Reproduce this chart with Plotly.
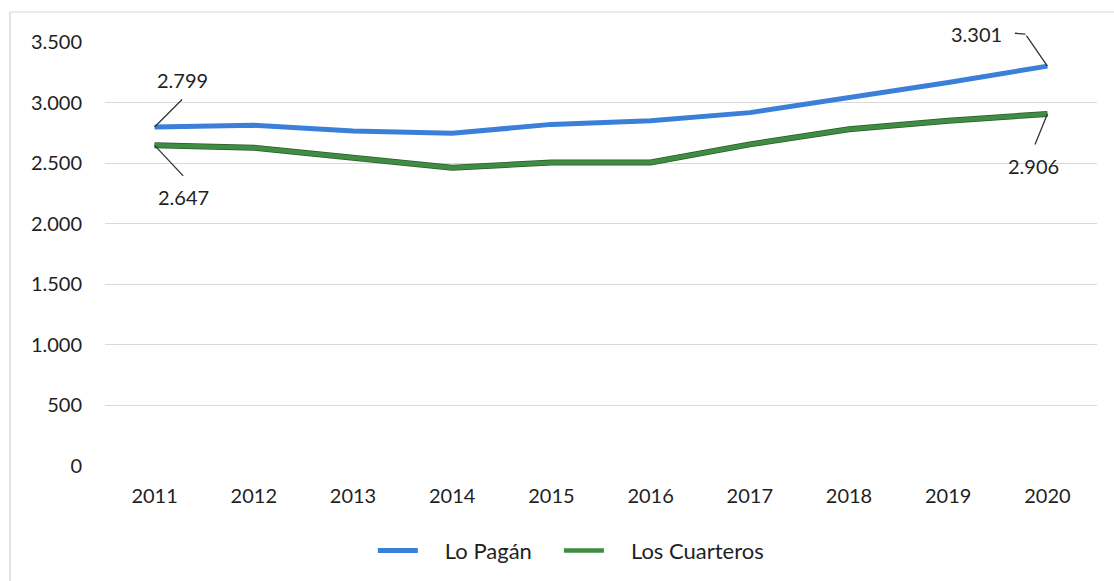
import plotly.graph_objects as go

years = [2011, 2012, 2013, 2014, 2015, 2016, 2017, 2018, 2019, 2020]
lo_pagan = [2799, 2812, 2766, 2746, 2820, 2850, 2917, 3042, 3165, 3301]
los_cuarteros = [2647, 2628, 2545, 2463, 2505, 2505, 2655, 2780, 2850, 2906]
y_ticks = [0, 500, 1000, 1500, 2000, 2500, 3000, 3500]
series_names = ["Lo Pagán", "Los Cuarteros"]

BLUE = "#3b80d8"
GREEN = "#3f8d42"
GREEN_EDGE = "#2a5a2c"
FONT = "Lato"
TXT = "#1f1f1f"
PAD = "\u2002\u2002"

def fmt(v):
    return f"{v:,}".replace(",", ".")

fig = go.Figure()
fig.add_trace(go.Scatter(x=years, y=lo_pagan, mode="lines", name=PAD + series_names[0] + PAD,
                         line=dict(color=BLUE, width=5)))
fig.add_trace(go.Scatter(x=years, y=los_cuarteros, mode="lines", name="edge",
                         line=dict(color=GREEN_EDGE, width=6), showlegend=False, hoverinfo="skip"))
fig.add_trace(go.Scatter(x=years, y=los_cuarteros, mode="lines", name=PAD + series_names[1],
                         line=dict(color=GREEN, width=4.5)))

ann_font = dict(family=FONT, size=20, color=TXT)
annotations = []
leaders = [
    (years[0], lo_pagan[0], 29, -29, 0, 0),
    (years[0], los_cuarteros[0], 30, 32, 0, 0),
    (years[-1], lo_pagan[-1], -22, -32, 0, 0),
    (years[-1], lo_pagan[-1], -12, -1, -22, 32),
    (years[-1], los_cuarteros[-1], -13, 32, 0, 0),
]
for x, y, ax, ay, xs, ys in leaders:
    annotations.append(dict(x=x, y=y, xref="x", yref="y", text="", showarrow=True,
                            arrowhead=0, arrowwidth=1.3, arrowcolor="#333333",
                            ax=ax, ay=ay, xshift=xs, yshift=ys, standoff=0, startstandoff=0))
labels = [
    (years[0], lo_pagan[0], 28, 47),
    (years[0], los_cuarteros[0], 29, -52),
    (years[-1], lo_pagan[-1], -71, 32),
    (years[-1], los_cuarteros[-1], -14, -52),
]
for x, y, xs, ys in labels:
    annotations.append(dict(x=x, y=y, xref="x", yref="y", text=fmt(y), showarrow=False,
                            xshift=xs, yshift=ys, font=ann_font))

shapes = [
    dict(type="line", xref="paper", yref="paper", x0=-0.0958, x1=-0.0958, y0=1.0708, y1=-0.3,
         line=dict(color="#c8c8c8", width=1)),
    dict(type="line", xref="paper", yref="paper", x0=-0.0958, x1=1.05, y0=1.0708, y1=1.0708,
         line=dict(color="#d6d6d6", width=1)),
]

fig.update_layout(
    width=1114, height=581,
    margin=dict(l=105, r=17, t=42, b=115, autoexpand=False),
    paper_bgcolor="white", plot_bgcolor="white",
    separators=",.",
    font=dict(family=FONT, size=20, color=TXT),
    showlegend=True,
    legend=dict(orientation="h", x=0.27, xanchor="left", y=-0.15, yanchor="top",
                font=dict(family=FONT, size=22, color=TXT), traceorder="normal",
                itemwidth=40),
    annotations=annotations,
    shapes=shapes,
    xaxis=dict(range=[2010.5, 2020.5], tickmode="array", tickvals=years,
               ticktext=[str(y) for y in years], showgrid=False, zeroline=False,
               showline=False, ticks="", ticklabelstandoff=16, automargin=False),
    yaxis=dict(range=[0, 3500], tickmode="array", tickvals=y_ticks,
               ticktext=[fmt(v) for v in y_ticks], showgrid=True, gridcolor="#d9d9d9",
               gridwidth=1, zeroline=False, showline=False, ticks="", ticklabelstandoff=22,
               automargin=False),
)

fig.write_html("out.html", config={"displayModeBar": False},
               post_script="document.body.style.margin='0';")
